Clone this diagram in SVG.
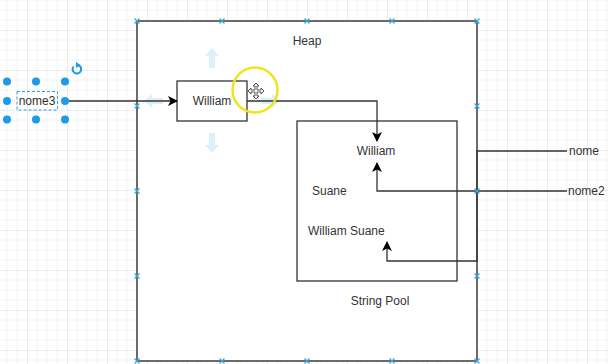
<svg xmlns="http://www.w3.org/2000/svg" width="608" height="364" viewBox="0 0 608 364">
  <style>
    .lbl { font-family: "Liberation Sans", Arial, sans-serif; font-size: 12px; fill: #333333; }
    .mid { text-anchor: middle; }
    .box { fill: #ffffff; stroke: #333333; stroke-width: 1.3; }
    .heap { fill: #ffffff; stroke: #6b6b6b; stroke-width: 2; }
    .edge { fill: none; stroke: #333333; stroke-width: 1.3; }
    .cp { stroke: #3aa6db; stroke-width: 1.2; }
    .handle { fill: #1e9be8; }
    .hover { fill: #cde9f9; opacity: 0.7; }
  </style>
  <defs>
    <pattern id="grid" patternUnits="userSpaceOnUse" x="27" y="30" width="40" height="40">
      <path d="M10 0V40M20 0V40M30 0V40M0 10H40M0 20H40M0 30H40" stroke="#f3f3f3" stroke-width="1" fill="none"/>
      <path d="M0 0V40M0 0H40" stroke="#dcdcdc" stroke-width="1" fill="none"/>
    </pattern>
    <marker id="arrow" viewBox="0 0 10 10" refX="9" refY="5" markerWidth="10" markerHeight="10" markerUnits="userSpaceOnUse" orient="auto">
      <path d="M0 0L10 5L0 10L2.5 5Z" fill="#000000"/>
    </marker>
    <g id="cpx">
      <path d="M-2.5 -2.5L2.5 2.5M-2.5 2.5L2.5 -2.5" class="cp"/>
    </g>
  </defs>

  <!-- canvas grid -->
  <rect x="0" y="0" width="608" height="364" fill="#ffffff"/>
  <rect x="0" y="0" width="608" height="364" fill="url(#grid)"/>

  <!-- Heap container -->
  <g id="heap">
    <rect class="heap" x="137" y="21" width="340" height="340"/>
    <text class="lbl mid" x="307" y="45">Heap</text>
  </g>

  <!-- String pool container -->
  <g id="string-pool">
    <rect class="box" x="297" y="121" width="160" height="160"/>
    <text class="lbl mid" x="380" y="305">String Pool</text>
  </g>

  <!-- pool entries -->
  <g id="pool-william">
    <text class="lbl mid" x="376" y="155">William</text>
  </g>
  <g id="pool-suane">
    <text class="lbl" x="312" y="195">Suane</text>
  </g>
  <g id="pool-william-suane">
    <text class="lbl" x="308" y="235">William Suane</text>
  </g>

  <!-- heap object -->
  <g id="heap-william">
    <rect class="box" x="177" y="81" width="70" height="40"/>
    <text class="lbl mid" x="212" y="105">William</text>
  </g>

  <!-- reference variables -->
  <g id="nome">
    <text class="lbl" x="569" y="155">nome</text>
  </g>
  <g id="nome2">
    <text class="lbl" x="568" y="195">nome2</text>
  </g>
  <g id="nome3">
    <text class="lbl mid" x="37" y="105">nome3</text>
  </g>

  <!-- hover arrows around the heap object -->
  <g id="hover-arrows">
    <path class="hover" d="M212 48L205 56H209V68H215V56H219Z"/>
    <path class="hover" d="M212 153L205 145H209V133H215V145H219Z"/>
    <path class="hover" d="M144 101L152 94V98H163V104H152V108Z" opacity="0.5"/>
    <path class="hover" d="M280 101L272 94V98H261V104H272V108Z"/>
  </g>

  <!-- connectors -->
  <g id="connectors">
    <path class="edge" d="M65 101H177" marker-end="url(#arrow)"/>
    <path class="edge" d="M247 101H377V141" marker-end="url(#arrow)"/>
    <path class="edge" d="M567 191H377V163" marker-end="url(#arrow)"/>
    <path class="edge" d="M567 151H477V261H387V242" marker-end="url(#arrow)"/>
  </g>

  <!-- connection points on the heap outline -->
  <g id="connection-points">
    <use href="#cpx" x="137" y="21"/><use href="#cpx" x="222" y="21"/><use href="#cpx" x="307" y="21"/><use href="#cpx" x="392" y="21"/><use href="#cpx" x="477" y="21"/>
    <use href="#cpx" x="137" y="361"/><use href="#cpx" x="222" y="361"/><use href="#cpx" x="307" y="361"/><use href="#cpx" x="392" y="361"/><use href="#cpx" x="477" y="361"/>
    <use href="#cpx" x="137" y="106"/><use href="#cpx" x="137" y="191"/><use href="#cpx" x="137" y="276"/>
    <use href="#cpx" x="477" y="106"/><use href="#cpx" x="477" y="191"/><use href="#cpx" x="477" y="276"/>
  </g>

  <!-- pointer highlight -->
  <g id="pointer">
    <circle cx="255" cy="90" r="22.5" fill="none" stroke="#ede51f" stroke-width="2.5"/>
    <g stroke="#555555" stroke-width="1" fill="#ffffff">
      <path d="M256 83L253 86H255V90H251V88L248 91L251 94V92H255V96H253L256 99L259 96H257V92H261V94L264 91L261 88V90H257V86H259Z"/>
    </g>
  </g>

  <!-- selection of nome3 -->
  <g id="selection">
    <rect x="17" y="91.5" width="40.5" height="18.5" fill="none" stroke="#29a3e8" stroke-width="1" stroke-dasharray="3 2"/>
    <circle class="handle" cx="7" cy="81.5" r="4"/>
    <circle class="handle" cx="36" cy="81.5" r="4"/>
    <circle class="handle" cx="65" cy="81.5" r="4"/>
    <circle class="handle" cx="7" cy="101" r="4"/>
    <circle class="handle" cx="65" cy="101" r="4"/>
    <circle class="handle" cx="7" cy="119.5" r="4"/>
    <circle class="handle" cx="36" cy="119.5" r="4"/>
    <circle class="handle" cx="65" cy="119.5" r="4"/>
    <path d="M73.5 66.5A4.3 4.3 0 1 0 78 65" fill="none" stroke="#1e9be8" stroke-width="2"/>
    <path d="M76 62L80.5 65L76 68Z" fill="#1e9be8"/>
  </g>
</svg>
